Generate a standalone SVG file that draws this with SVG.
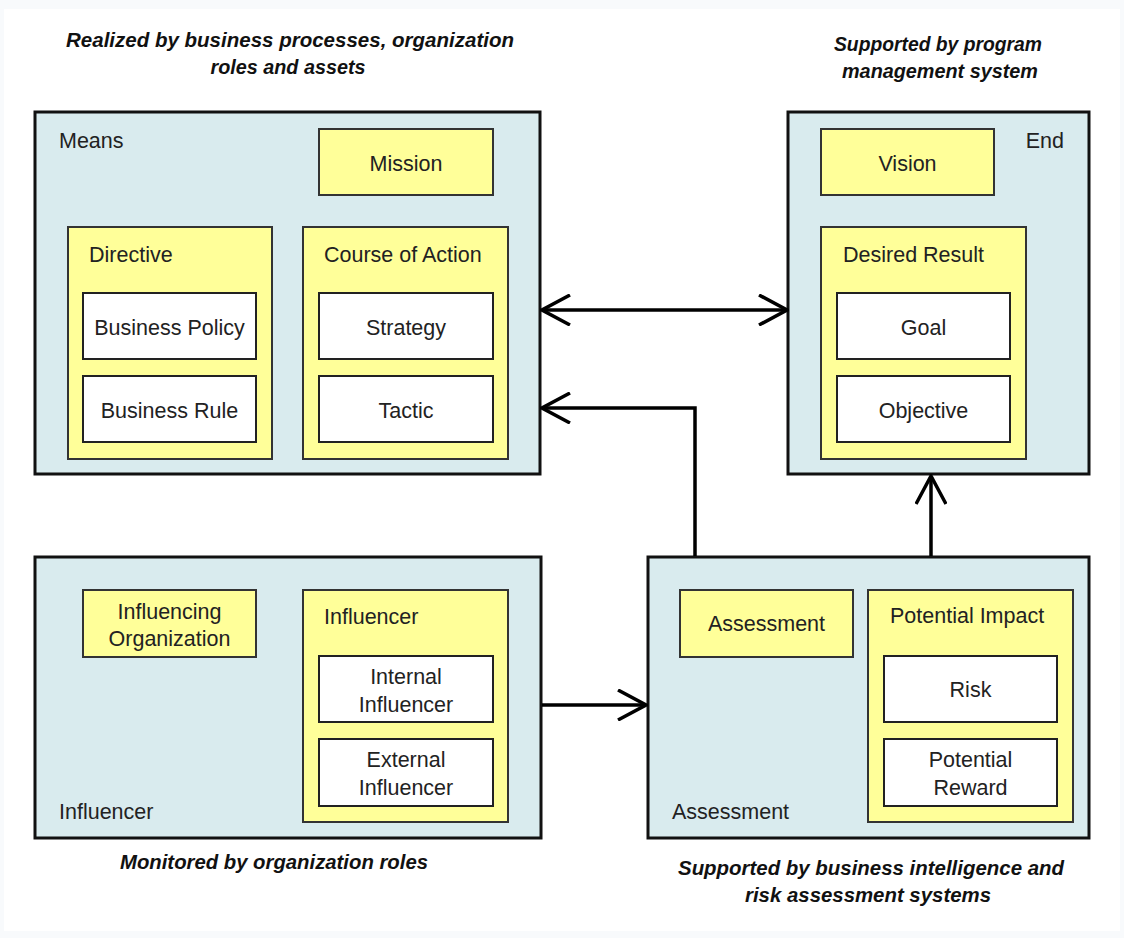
<svg xmlns="http://www.w3.org/2000/svg" width="1124" height="938" viewBox="0 0 1124 938">
  <style>
    text { font-family: "Liberation Sans", Arial, sans-serif; fill: #222; }
    .lbl { font-size: 21.5px; }
    .mid { text-anchor: middle; }
    .cap { font-size: 20px; font-style: italic; font-weight: bold; fill: #111; text-anchor: middle; }
    .outer { fill: #d9ebee; stroke: #111; stroke-width: 3; }
    .yel { fill: #ffff99; stroke: #333; stroke-width: 2; }
    .wht { fill: #ffffff; stroke: #222; stroke-width: 2; }
    .conn { fill: none; stroke: #000; stroke-width: 3.5; }
  </style>
  <defs>
    <marker id="arr" viewBox="0 0 32 32" markerWidth="32" markerHeight="32" refX="30" refY="16" markerUnits="userSpaceOnUse" orient="auto-start-reverse">
      <path d="M2,1 L30,16 L2,31" fill="none" stroke="#000" stroke-width="3.5" stroke-linejoin="miter"/>
    </marker>
  </defs>

  <rect x="0" y="0" width="1124" height="938" fill="#f8fafc"/>
  <rect x="4" y="9" width="1116" height="922" fill="#ffffff"/>

  <!-- captions -->
  <g id="captions">
    <text class="cap" x="290" y="47" textLength="448" lengthAdjust="spacingAndGlyphs">Realized by business processes, organization</text>
    <text class="cap" x="288" y="74" textLength="155" lengthAdjust="spacingAndGlyphs">roles and assets</text>
    <text class="cap" x="938" y="51" textLength="208" lengthAdjust="spacingAndGlyphs">Supported by program</text>
    <text class="cap" x="940" y="78" textLength="196" lengthAdjust="spacingAndGlyphs">management system</text>
    <text class="cap" x="274" y="869" textLength="308" lengthAdjust="spacingAndGlyphs">Monitored by organization roles</text>
    <text class="cap" x="871" y="875" textLength="386" lengthAdjust="spacingAndGlyphs">Supported by business intelligence and</text>
    <text class="cap" x="868" y="902" textLength="246" lengthAdjust="spacingAndGlyphs">risk assessment systems</text>
  </g>

  <!-- Means -->
  <g id="means">
    <rect class="outer" x="35" y="112" width="505" height="362"/>
    <text class="lbl" x="59" y="148">Means</text>
    <g id="mission">
      <rect class="yel" x="319" y="129" width="174" height="66"/>
      <text class="lbl mid" x="406" y="171">Mission</text>
    </g>
    <g id="directive">
      <rect class="yel" x="68" y="227" width="204" height="232"/>
      <text class="lbl" x="89" y="262">Directive</text>
      <g id="business-policy">
        <rect class="wht" x="83" y="293" width="173" height="66"/>
        <text class="lbl mid" x="169.5" y="335">Business Policy</text>
      </g>
      <g id="business-rule">
        <rect class="wht" x="83" y="376" width="173" height="66"/>
        <text class="lbl mid" x="169.5" y="418">Business Rule</text>
      </g>
    </g>
    <g id="course-of-action">
      <rect class="yel" x="303" y="227" width="205" height="232"/>
      <text class="lbl" x="324" y="262">Course of Action</text>
      <g id="strategy">
        <rect class="wht" x="319" y="293" width="174" height="66"/>
        <text class="lbl mid" x="406" y="335">Strategy</text>
      </g>
      <g id="tactic">
        <rect class="wht" x="319" y="376" width="174" height="66"/>
        <text class="lbl mid" x="406" y="418">Tactic</text>
      </g>
    </g>
  </g>

  <!-- End -->
  <g id="end">
    <rect class="outer" x="788" y="112" width="301" height="362"/>
    <text class="lbl" x="1064" y="148" text-anchor="end">End</text>
    <g id="vision">
      <rect class="yel" x="821" y="129" width="173" height="66"/>
      <text class="lbl mid" x="907.5" y="171">Vision</text>
    </g>
    <g id="desired-result">
      <rect class="yel" x="821" y="227" width="205" height="232"/>
      <text class="lbl" x="843" y="262">Desired Result</text>
      <g id="goal">
        <rect class="wht" x="837" y="293" width="173" height="66"/>
        <text class="lbl mid" x="923.5" y="335">Goal</text>
      </g>
      <g id="objective">
        <rect class="wht" x="837" y="376" width="173" height="66"/>
        <text class="lbl mid" x="923.5" y="418">Objective</text>
      </g>
    </g>
  </g>

  <!-- Influencer -->
  <g id="influencer">
    <rect class="outer" x="35" y="557" width="506" height="281"/>
    <text class="lbl" x="59" y="819">Influencer</text>
    <g id="influencing-organization">
      <rect class="yel" x="83" y="590" width="173" height="67"/>
      <text class="lbl mid" x="169.5" y="619">Influencing</text>
      <text class="lbl mid" x="169.5" y="646">Organization</text>
    </g>
    <g id="influencer-inner">
      <rect class="yel" x="303" y="590" width="205" height="232"/>
      <text class="lbl" x="324" y="624">Influencer</text>
      <g id="internal-influencer">
        <rect class="wht" x="319" y="656" width="174" height="66"/>
        <text class="lbl mid" x="406" y="684">Internal</text>
        <text class="lbl mid" x="406" y="712">Influencer</text>
      </g>
      <g id="external-influencer">
        <rect class="wht" x="319" y="739" width="174" height="67"/>
        <text class="lbl mid" x="406" y="767">External</text>
        <text class="lbl mid" x="406" y="795">Influencer</text>
      </g>
    </g>
  </g>

  <!-- Assessment -->
  <g id="assessment">
    <rect class="outer" x="648" y="557" width="441" height="281"/>
    <text class="lbl" x="672" y="819">Assessment</text>
    <g id="assessment-inner">
      <rect class="yel" x="680" y="590" width="173" height="67"/>
      <text class="lbl mid" x="766.5" y="631">Assessment</text>
    </g>
    <g id="potential-impact">
      <rect class="yel" x="868" y="590" width="205" height="232"/>
      <text class="lbl" x="890" y="623">Potential Impact</text>
      <g id="risk">
        <rect class="wht" x="884" y="656" width="173" height="66"/>
        <text class="lbl mid" x="970.5" y="697">Risk</text>
      </g>
      <g id="potential-reward">
        <rect class="wht" x="884" y="739" width="173" height="67"/>
        <text class="lbl mid" x="970.5" y="767">Potential</text>
        <text class="lbl mid" x="970.5" y="795">Reward</text>
      </g>
    </g>
  </g>

  <!-- connectors -->
  <g id="connectors">
    <path class="conn" d="M542,310 L787,310" marker-start="url(#arr)" marker-end="url(#arr)"/>
    <path class="conn" d="M695,556 L695,408 L542,408" marker-end="url(#arr)"/>
    <path class="conn" d="M931,556 L931,476" marker-end="url(#arr)"/>
    <path class="conn" d="M542,705 L646,705" marker-end="url(#arr)"/>
  </g>
</svg>
